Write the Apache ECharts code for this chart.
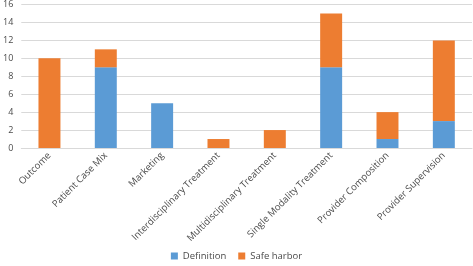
<!DOCTYPE html>
<html>
<head>
<meta charset="utf-8">
<script src="https://cdn.jsdelivr.net/npm/echarts@6/dist/echarts.min.js"></script>
<style>
  html, body { margin: 0; padding: 0; background: #fff; }
  #chart { width: 473px; height: 266px; }
</style>
</head>
<body>
<div id="chart"></div>
<script>
const categories = ['Outcome', 'Patient Case Mix', 'Marketing', 'Interdisciplinary Treatment',
  'Multidisciplinary Treatment', 'Single Modality Treatment', 'Provider Composition', 'Provider Supervision'];
const definition = [0, 9, 5, 0, 0, 9, 1, 3];
const safeHarbor = [10, 2, 0, 1, 2, 6, 3, 9];

const font = 'Open Sans';
const textColor = '#4a4a4a';
const chart = echarts.init(document.getElementById('chart'));
chart.setOption({
  animation: false,
  textStyle: { fontFamily: font },
  legend: {
    bottom: 0,
    left: 'center',
    itemWidth: 7,
    itemHeight: 7,
    itemGap: 12,
    icon: 'rect',
    textStyle: { fontSize: 9.5, color: textColor, fontFamily: font },
    data: ['Definition', 'Safe harbor'],
  },
  grid: { left: 19, right: 1, top: 4, bottom: 118 },
  xAxis: {
    type: 'category',
    data: categories,
    axisTick: { show: false },
    axisLine: { lineStyle: { color: '#d9d9d9' } },
    axisLabel: { rotate: 45, fontSize: 9.5, color: textColor, margin: 6, interval: 0 },
  },
  yAxis: {
    type: 'value',
    min: 0,
    max: 16,
    interval: 2,
    axisLabel: { fontSize: 9, color: textColor, margin: 8 },
    splitLine: { lineStyle: { color: '#d9d9d9' } },
  },
  series: [
    { name: 'Definition', type: 'bar', stack: 'a', data: definition, barWidth: '39%',
      itemStyle: { color: '#5B9BD5' } },
    { name: 'Safe harbor', type: 'bar', stack: 'a', data: safeHarbor, barWidth: '39%',
      itemStyle: { color: '#ED7D31' } },
  ],
});
</script>
</body>
</html>
